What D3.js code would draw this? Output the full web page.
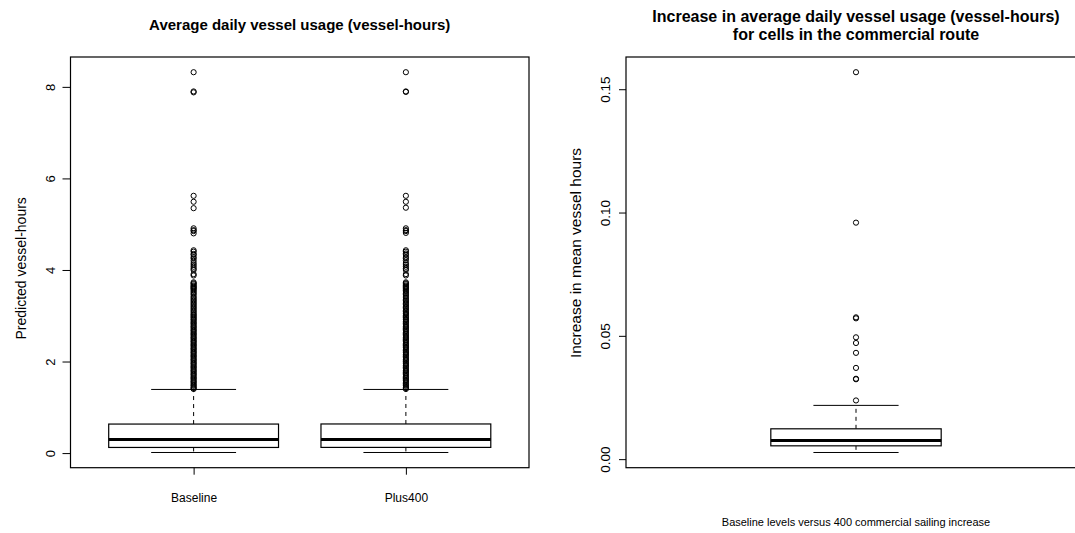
<!DOCTYPE html>
<html>
<head>
<meta charset="utf-8">
<script src="https://cdn.jsdelivr.net/npm/d3@7"></script>
<style>
  html, body { margin: 0; padding: 0; background: #fff; }
  svg { display: block; font-family: "Liberation Sans", Arial, Helvetica, sans-serif; }
</style>
</head>
<body>
<svg id="chart" width="1075" height="533"></svg>
<script>
// ---- data -------------------------------------------------------------
const categories = ["Baseline", "Plus400"];

// five-number summaries per group: lower whisker, Q1, median, Q3, upper whisker
const lowerWhisker = [0.013, 0.013];
const q1Values     = [0.123, 0.124];
const medianValues = [0.297, 0.298];
const q3Values     = [0.634, 0.636];
const upperWhisker = [1.39, 1.39];

const baselineOutliers = [
  8.32, 7.90, 7.88, 5.62, 5.49, 5.35, 4.91, 4.87, 4.85, 4.80,
  4.43, 4.40, 4.35, 4.33, 4.28, 4.25, 4.20, 4.15, 4.11, 4.07,
  4.03, 4.00, 3.91, 3.88, 3.73, 3.71, 3.69, 3.66, 3.64, 3.62,
  3.60, 3.58, 3.55, 3.52, 3.49, 3.46, 3.42, 3.39, 3.36, 3.33,
  3.30, 3.27, 3.24, 3.21, 3.18, 3.15, 3.12, 3.09, 3.06, 3.03,
  3.01, 2.98, 2.96, 2.93, 2.91, 2.88, 2.85, 2.83, 2.80, 2.77,
  2.75, 2.72, 2.69, 2.67, 2.64, 2.61, 2.59, 2.56, 2.53, 2.51,
  2.48, 2.45, 2.43, 2.40, 2.37, 2.35, 2.32, 2.29, 2.27, 2.24,
  2.21, 2.19, 2.16, 2.13, 2.11, 2.08, 2.05, 2.03, 2.00, 1.97,
  1.95, 1.92, 1.89, 1.87, 1.84, 1.81, 1.79, 1.76, 1.73, 1.71,
  1.68, 1.65, 1.63, 1.60, 1.57, 1.55, 1.52, 1.49, 1.47, 1.44,
  1.42, 1.40
];
const plus400Outliers = [
  8.32, 7.90, 7.89, 5.62, 5.49, 5.36, 4.91, 4.87, 4.85, 4.81,
  4.43, 4.40, 4.36, 4.33, 4.28, 4.25, 4.21, 4.15, 4.11, 4.07,
  4.03, 4.00, 3.91, 3.88, 3.73, 3.71, 3.69, 3.66, 3.64, 3.62,
  3.60, 3.58, 3.55, 3.52, 3.49, 3.46, 3.43, 3.39, 3.36, 3.33,
  3.30, 3.27, 3.24, 3.21, 3.18, 3.15, 3.12, 3.09, 3.06, 3.04,
  3.01, 2.98, 2.96, 2.93, 2.91, 2.88, 2.86, 2.83, 2.80, 2.77,
  2.75, 2.72, 2.70, 2.67, 2.64, 2.61, 2.59, 2.56, 2.53, 2.51,
  2.48, 2.46, 2.43, 2.40, 2.37, 2.35, 2.32, 2.30, 2.27, 2.24,
  2.21, 2.19, 2.16, 2.14, 2.11, 2.08, 2.05, 2.03, 2.00, 1.97,
  1.95, 1.92, 1.90, 1.87, 1.84, 1.81, 1.79, 1.76, 1.74, 1.71,
  1.68, 1.65, 1.63, 1.60, 1.58, 1.55, 1.52, 1.49, 1.47, 1.44,
  1.42, 1.40
];

// increase in mean vessel hours for cells on the commercial route
const increaseStats = [0.0027, 0.0054, 0.0076, 0.0123, 0.0218];
const increaseOutliers = [0.1569, 0.0959, 0.0575, 0.0571, 0.0494, 0.0471, 0.0431, 0.0370, 0.0326, 0.0324, 0.0238];

const leftTicks  = [0, 2, 4, 6, 8];
const rightTicks = [0, 0.05, 0.10, 0.15];

// ---- drawing ----------------------------------------------------------
const svg = d3.select("#chart");
const FONT = "Liberation Sans, Arial, sans-serif";

// R-style axis range: data extent padded by 4% on each side
function paddedExtent(values) {
  const [lo, hi] = d3.extent(values);
  const pad = (hi - lo) * 0.04;
  return [lo - pad, hi + pad];
}

function drawBoxplot(g, x, y, center, stats, outliers, halfWidth) {
  const [lw, q1, med, q3, uw] = stats;
  const cx = x(center);
  const left = x(center - halfWidth), right = x(center + halfWidth);
  const sLeft = x(center - halfWidth / 2), sRight = x(center + halfWidth / 2);

  // whiskers (dashed)
  g.append("line").attr("x1", cx).attr("x2", cx).attr("y1", y(q3)).attr("y2", y(uw))
    .attr("stroke", "#000").attr("stroke-width", 1).attr("stroke-dasharray", "4,4");
  g.append("line").attr("x1", cx).attr("x2", cx).attr("y1", y(q1)).attr("y2", y(lw))
    .attr("stroke", "#000").attr("stroke-width", 1).attr("stroke-dasharray", "4,4");
  // staples
  [lw, uw].forEach(v => {
    g.append("line").attr("x1", sLeft).attr("x2", sRight).attr("y1", y(v)).attr("y2", y(v))
      .attr("stroke", "#000").attr("stroke-width", 1);
  });
  // box
  g.append("rect").attr("x", left).attr("y", y(q3))
    .attr("width", right - left).attr("height", y(q1) - y(q3))
    .attr("fill", "#fff").attr("stroke", "#000").attr("stroke-width", 1.2);
  // median
  g.append("line").attr("x1", left).attr("x2", right).attr("y1", y(med)).attr("y2", y(med))
    .attr("stroke", "#000").attr("stroke-width", 3);
  // outliers
  g.selectAll(null).data(outliers).enter().append("circle")
    .attr("cx", cx).attr("cy", d => y(d)).attr("r", 2.6)
    .attr("fill", "none").attr("stroke", "#000").attr("stroke-width", 1);
}

function rotatedTickLabels(axisG, offset, size) {
  axisG.select(".domain").remove();
  axisG.selectAll(".tick line").attr("stroke", "#000");
  axisG.selectAll(".tick text")
    .attr("x", 0).attr("y", 0).attr("dy", null)
    .attr("transform", `translate(${-offset},0) rotate(-90)`)
    .attr("text-anchor", "middle").attr("dominant-baseline", "central")
    .attr("font-size", size).attr("font-family", FONT).attr("fill", "#000");
}

// ---------------- left panel ----------------
{
  const frame = { x0: 70.5, x1: 529, y0: 57, y1: 467.7 };
  const groupStats = categories.map((c, i) =>
    [lowerWhisker[i], q1Values[i], medianValues[i], q3Values[i], upperWhisker[i]]);
  const groupOutliers = [baselineOutliers, plus400Outliers];
  const allValues = groupStats.flat().concat(baselineOutliers, plus400Outliers);

  const y = d3.scaleLinear().domain(paddedExtent(allValues)).range([frame.y1, frame.y0]);
  const x = d3.scaleLinear().domain([0.42, 2.58]).range([frame.x0, frame.x1]);

  const g = svg.append("g");
  categories.forEach((c, i) => drawBoxplot(g, x, y, i + 1, groupStats[i], groupOutliers[i], 0.4));

  g.append("rect").attr("x", frame.x0).attr("y", frame.y0)
    .attr("width", frame.x1 - frame.x0).attr("height", frame.y1 - frame.y0)
    .attr("fill", "none").attr("stroke", "#000").attr("stroke-width", 1.2);

  const yAxis = g.append("g").attr("transform", `translate(${frame.x0},0)`)
    .call(d3.axisLeft(y).tickValues(leftTicks).tickSize(8).tickFormat(d3.format("d")));
  rotatedTickLabels(yAxis, 20.5, 13);

  const xAxis = g.append("g").attr("transform", `translate(0,${frame.y1})`)
    .call(d3.axisBottom(x).tickValues([1, 2]).tickSize(7).tickFormat((d, i) => categories[i]));
  xAxis.select(".domain").remove();
  xAxis.selectAll(".tick line").attr("stroke", "#000");
  xAxis.selectAll(".tick text").attr("y", 0).attr("dy", null)
    .attr("transform", "translate(0,34)")
    .attr("font-size", 12).attr("font-family", FONT).attr("fill", "#000");

  g.append("text").attr("x", (frame.x0 + frame.x1) / 2).attr("y", 30)
    .attr("text-anchor", "middle").attr("font-size", 15).attr("font-weight", "bold")
    .text("Average daily vessel usage (vessel-hours)");

  g.append("text").attr("transform", `translate(21,${(frame.y0 + frame.y1) / 2 + 6}) rotate(-90)`)
    .attr("text-anchor", "middle").attr("dominant-baseline", "central").attr("font-size", 14)
    .text("Predicted vessel-hours");
}

// ---------------- right panel ----------------
{
  const frame = { x0: 626, x1: 1086, y0: 57, y1: 467.7 };
  const allValues = increaseStats.concat(increaseOutliers);
  const y = d3.scaleLinear().domain(paddedExtent(allValues)).range([frame.y1, frame.y0]);
  const x = d3.scaleLinear().domain([0.46, 1.54]).range([frame.x0, frame.x1]);

  const g = svg.append("g");
  drawBoxplot(g, x, y, 1, increaseStats, increaseOutliers, 0.2);

  g.append("rect").attr("x", frame.x0).attr("y", frame.y0)
    .attr("width", frame.x1 - frame.x0).attr("height", frame.y1 - frame.y0)
    .attr("fill", "none").attr("stroke", "#000").attr("stroke-width", 1.2);

  const yAxis = g.append("g").attr("transform", `translate(${frame.x0},0)`)
    .call(d3.axisLeft(y).tickValues(rightTicks).tickSize(7).tickFormat(d3.format(".2f")));
  rotatedTickLabels(yAxis, 21, 13.5);

  const cx = 856;
  g.append("text").attr("x", cx).attr("y", 22)
    .attr("text-anchor", "middle").attr("font-size", 16).attr("font-weight", "bold")
    .text("Increase in average daily vessel usage (vessel-hours)");
  g.append("text").attr("x", cx).attr("y", 39.5)
    .attr("text-anchor", "middle").attr("font-size", 16).attr("font-weight", "bold")
    .text("for cells in the commercial route");

  g.append("text").attr("x", cx).attr("y", 526)
    .attr("text-anchor", "middle").attr("font-size", 11)
    .text("Baseline levels versus 400 commercial sailing increase");

  g.append("text").attr("transform", `translate(575,253) rotate(-90)`)
    .attr("text-anchor", "middle").attr("dominant-baseline", "central").attr("font-size", 15.5)
    .text("Increase in mean vessel hours");
}
</script>
</body>
</html>
